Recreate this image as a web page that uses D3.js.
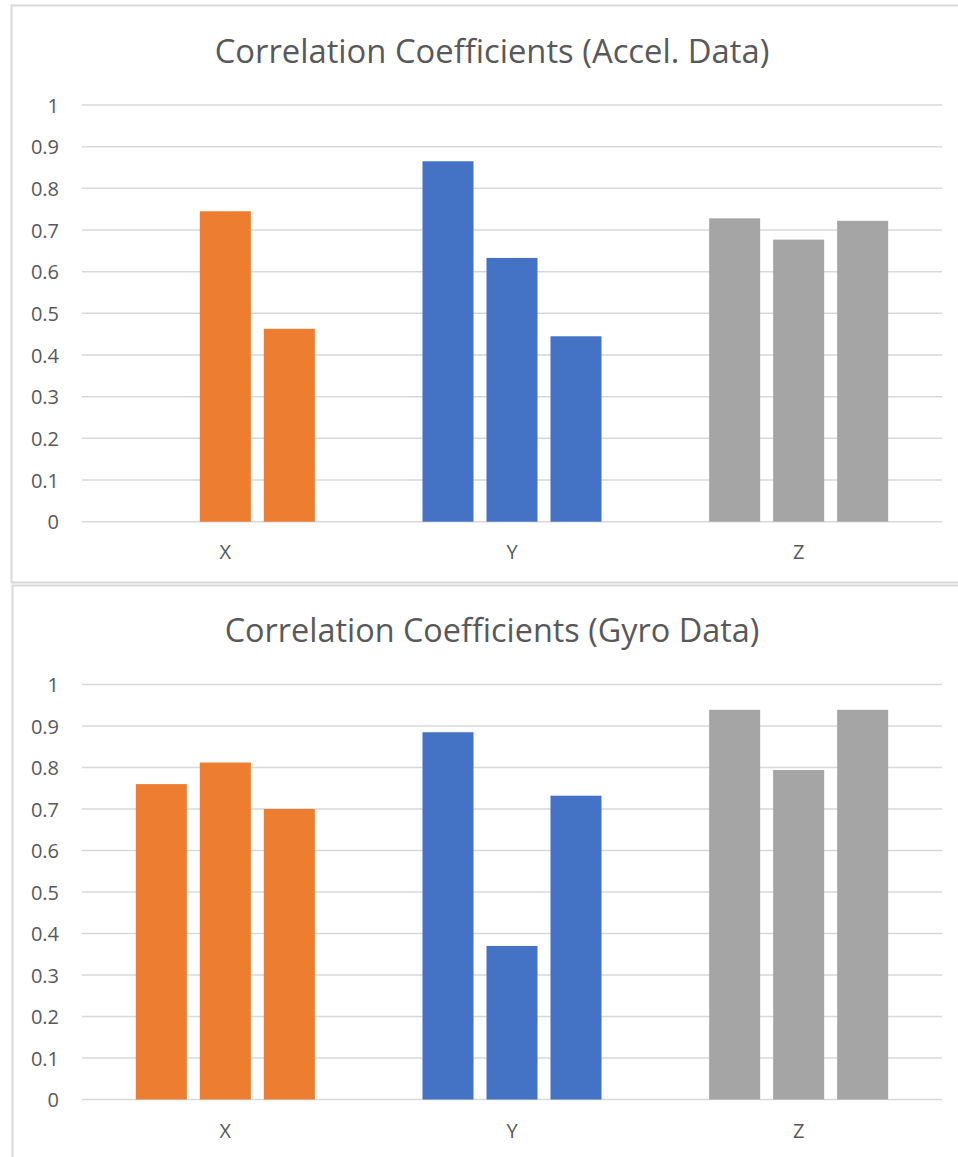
<!DOCTYPE html>
<html>
<head>
<meta charset="utf-8">
<script src="https://cdn.jsdelivr.net/npm/d3@7"></script>
<style>
  html, body { margin: 0; padding: 0; background: #fff; }
  svg { display: block; }
  text { font-family: "Open Sans", "Noto Sans", sans-serif; fill: #595959; }
</style>
</head>
<body>
<svg id="chart" width="958" height="1157"></svg>
<script>
// Axis categories and series values (three sensors per axis)
const categories = ["X", "Y", "Z"];
const seriesKeys = ["s1", "s2", "s3"];
const accelValues = [
  [null, 0.745, 0.463],
  [0.865, 0.633, 0.445],
  [0.728, 0.677, 0.722]
];
const gyroValues = [
  [0.760, 0.812, 0.700],
  [0.885, 0.370, 0.732],
  [0.939, 0.794, 0.939]
];
const yTicks = [0, 0.1, 0.2, 0.3, 0.4, 0.5, 0.6, 0.7, 0.8, 0.9, 1];
const categoryColors = ["#ED7D31", "#4472C4", "#A5A5A5"];
const titles = ["Correlation Coefficients (Accel. Data)", "Correlation Coefficients (Gyro Data)"];

const svg = d3.select("#chart");
svg.append("rect").attr("width", 958).attr("height", 1157).attr("fill", "#fff");

const panels = [
  { title: titles[0], values: accelValues, frame: [11.5, 5.5, 960, 577],
    titleY: 63, titleW: 555, y0: 521.7, y1: 105, labelY: 559 },
  { title: titles[1], values: gyroValues, frame: [12.5, 585.5, 960, 600],
    titleY: 642, titleW: 535, y0: 1099.5, y1: 684.5, labelY: 1137.5 }
];

const plotLeft = 82, plotRight = 942;

panels.forEach(p => {
  const g = svg.append("g");

  // chart frame
  g.append("rect")
    .attr("x", p.frame[0]).attr("y", p.frame[1])
    .attr("width", p.frame[2]).attr("height", p.frame[3])
    .attr("fill", "none").attr("stroke", "#D9D9D9").attr("stroke-width", 2);

  // title
  const t = g.append("text")
    .attr("x", 492).attr("y", p.titleY)
    .attr("text-anchor", "middle")
    .style("font-size", "30px")
    .text(p.title);
  const w = t.node().getComputedTextLength();
  t.style("font-size", (30 * p.titleW / w).toFixed(2) + "px");

  const y = d3.scaleLinear().domain([0, 1]).range([p.y0, p.y1]);
  const x0 = d3.scaleBand().domain(categories).range([plotLeft, plotRight]).padding(0);
  const x1 = d3.scaleBand().domain(seriesKeys).range([0, x0.bandwidth()])
    .paddingInner(0.203).paddingOuter(0.841);

  // gridlines
  g.append("g").selectAll("line").data(yTicks).join("line")
    .attr("x1", plotLeft).attr("x2", plotRight)
    .attr("y1", d => y(d)).attr("y2", d => y(d))
    .attr("stroke", "#D9D9D9").attr("stroke-width", 1.5);

  // y tick labels
  const yAxis = d3.axisLeft(y).tickValues(yTicks).tickSize(0).tickPadding(0)
    .tickFormat(d3.format("~g"));
  const ya = g.append("g").attr("transform", "translate(59,0)").call(yAxis);
  ya.select(".domain").remove();
  ya.selectAll("text")
    .attr("fill", "#595959")
    .style("font-family", '"Open Sans", "Noto Sans", sans-serif')
    .style("font-size", "20px")
    .attr("dy", "0.35em");

  // bars
  categories.forEach((c, ci) => {
    const grp = g.append("g").attr("transform", `translate(${x0(c)},0)`);
    const rows = seriesKeys.map((k, si) => ({ key: k, value: p.values[ci][si] }))
      .filter(d => d.value != null);
    grp.selectAll("rect").data(rows).join("rect")
      .attr("x", d => x1(d.key))
      .attr("width", x1.bandwidth())
      .attr("y", d => y(d.value))
      .attr("height", d => y(0) - y(d.value))
      .attr("fill", categoryColors[ci]);
  });

  // category labels
  const xAxis = d3.axisBottom(x0).tickSize(0).tickPadding(0);
  const xa = g.append("g").attr("transform", `translate(0,${p.labelY})`).call(xAxis);
  xa.select(".domain").remove();
  xa.selectAll("text")
    .attr("fill", "#595959")
    .attr("dy", 0)
    .style("font-family", '"Open Sans", "Noto Sans", sans-serif')
    .style("font-size", "20px");
});
</script>
</body>
</html>
